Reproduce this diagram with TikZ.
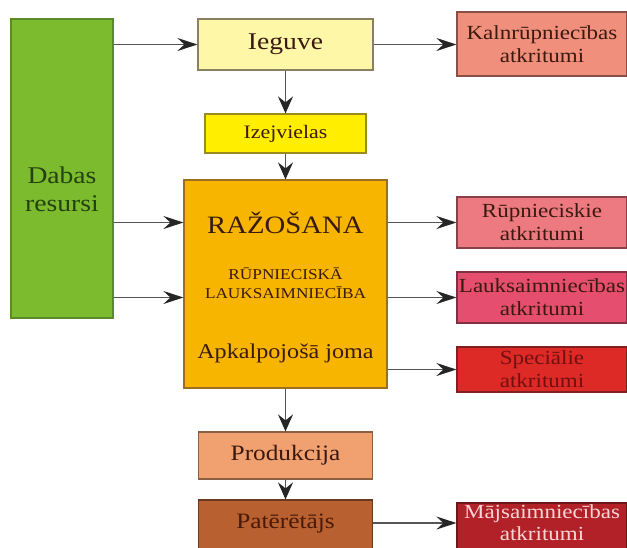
\documentclass[tikz,border=0pt]{standalone}
\usepackage{fontspec}
\setmainfont{Liberation Serif}[FakeStretch=1.15]
\usetikzlibrary{arrows.meta}
\definecolor{gfill}{HTML}{7DBB2E}\definecolor{gdraw}{HTML}{5A8A2A}\definecolor{gtext}{HTML}{23420F}
\definecolor{iegfill}{HTML}{FFF7A8}\definecolor{iegdraw}{HTML}{8A8060}
\definecolor{izjfill}{HTML}{FFEE00}\definecolor{izjdraw}{HTML}{9A8A20}
\definecolor{rafill}{HTML}{F7B500}\definecolor{radraw}{HTML}{9A7020}
\definecolor{kalfill}{HTML}{F0907C}\definecolor{kaldraw}{HTML}{8A5048}
\definecolor{rupfill}{HTML}{EC7A80}\definecolor{rupdraw}{HTML}{8A4048}
\definecolor{laufill}{HTML}{E54E6E}\definecolor{laudraw}{HTML}{803040}
\definecolor{spefill}{HTML}{DE2A26}\definecolor{spedraw}{HTML}{802020}
\definecolor{profill}{HTML}{F1A070}\definecolor{prodraw}{HTML}{8A6040}
\definecolor{patfill}{HTML}{B8602F}\definecolor{patdraw}{HTML}{6A3A20}
\definecolor{majfill}{HTML}{B22028}\definecolor{majdraw}{HTML}{6A1818}
\definecolor{btext}{HTML}{3A1A10}
\definecolor{pattext}{HTML}{4A1A08}
\definecolor{spetext}{HTML}{701010}
\definecolor{majtext}{HTML}{F8D6D6}
\definecolor{arrline}{HTML}{555555}
\begin{document}
\begin{tikzpicture}[x=1pt,y=-1pt,
  box/.style={draw, line width=1.2pt, inner sep=0pt, align=center, text=btext},
  arr/.style={draw=arrline, line width=1.3pt, -{Stealth[length=20pt,width=13pt,inset=7pt,color=black!85]}},
  varr/.style={draw=arrline, line width=1.3pt, -{Stealth[length=17pt,width=15pt,inset=6pt,color=black!85]}},
  rbox/.style={box, minimum width=170pt, font=\fontsize{20}{23}\selectfont}
]
\useasboundingbox (0,0) rectangle (627,547);
\clip (0,0) rectangle (627,547);
\fill[white] (0,0) rectangle (627,547);

% left
\node[box, fill=gfill, draw=gdraw, minimum width=102pt, minimum height=299pt] (dab) at (62,168.5) {};
\node[text=gtext, align=center, font=\fontsize{24}{28}\selectfont] (dabt) at (62,189) {Dabas\\resursi};

% middle column
\node[box, fill=iegfill, draw=iegdraw, minimum width=175pt, minimum height=51pt, font=\fontsize{24}{28}\selectfont] (ieg) at (285.5,44.5) {Ieguve};
\node[box, fill=izjfill, draw=izjdraw, minimum width=161pt, minimum height=39pt, font=\fontsize{19}{22}\selectfont] (izj) at (285.5,133.5) {Izejvielas};
\node[box, fill=rafill, draw=radraw, minimum width=203pt, minimum height=208pt] (ra) at (285.5,284) {};
\node[text=btext, font=\fontsize{25}{28}\selectfont] (rat) at (285.5,223) {RAŽOŠANA};
\node[text=btext, align=center, font=\fontsize{15}{19}\selectfont] (rpl) at (285.5,283.5) {RŪPNIECISKĀ\\LAUKSAIMNIECĪBA};
\node[text=btext, font=\fontsize{21}{24}\selectfont] (apj) at (285.5,353) {Apkalpojošā joma};
\node[box, fill=profill, draw=prodraw, minimum width=174pt, minimum height=47pt, font=\fontsize{22}{26}\selectfont] (pro) at (285.5,455.5) {Produkcija};
\node[box, fill=patfill, draw=patdraw, minimum width=174pt, minimum height=50pt] (pat) at (285.5,525) {};
\node[text=pattext, font=\fontsize{22}{26}\selectfont] (patt) at (285.5,524) {Patērētājs};

% right column
\node[rbox, fill=kalfill, draw=kaldraw, minimum height=64pt] (kal) at (542,44) {Kalnrūpniecības\\atkritumi};
\node[rbox, fill=rupfill, draw=rupdraw, minimum height=51pt] (rup) at (542,222.5) {Rūpnieciskie\\atkritumi};
\node[rbox, fill=laufill, draw=laudraw, minimum height=51pt] (lau) at (542,297.5) {Lauksaimniecības\\atkritumi};
\node[rbox, fill=spefill, draw=spedraw, minimum height=45pt, text=spetext] (spe) at (542,369.5) {Speciālie\\atkritumi};
\node[rbox, fill=majfill, draw=majdraw, minimum height=48pt] (maj) at (542,527) {};
\node[text=majtext, align=center, font=\fontsize{20}{22}\selectfont] (majt) at (542,523) {Mājsaimniecības\\atkritumi};

% arrows
\draw[arr] (dab.east |- ieg.west) -- (ieg.west);
\draw[arr] (ieg.east) -- (kal.west |- ieg.east);
\draw[arr] (dab.east |- rup.west) -- (ra.west |- rup.west);
\draw[arr] (dab.east |- lau.west) -- (ra.west |- lau.west);
\draw[arr] (ra.east |- rup.west) -- (rup.west);
\draw[arr] (ra.east |- lau.west) -- (lau.west);
\draw[arr] (ra.east |- spe.west) -- (spe.west);
\draw[arr] (pat.east |- majt.west) -- (maj.west |- majt.west);
\draw[varr] (ieg.south) -- (izj.north);
\draw[varr] (izj.south) -- (ra.north);
\draw[varr] (ra.south) -- (pro.north);
\draw[varr] (pro.south) -- (pat.north);
\end{tikzpicture}
\end{document}
